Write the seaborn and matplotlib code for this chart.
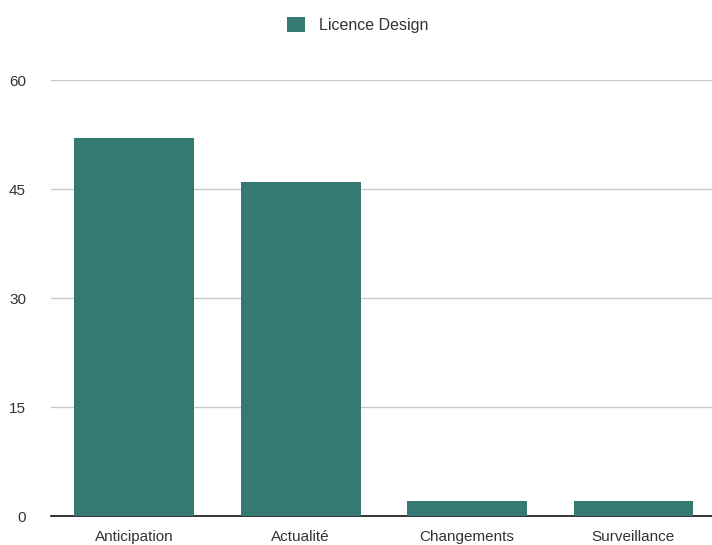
"""Bar chart: Licence Design counts per theme."""
import matplotlib
matplotlib.use("Agg")
import matplotlib.pyplot as plt
import pandas as pd
import seaborn as sns

categories = ["Anticipation", "Actualité", "Changements", "Surveillance"]
values = [52, 46, 2, 2]
series_name = "Licence Design"
y_ticks = [0, 15, 30, 45, 60]

BAR_COLOR = "#357a72"

sns.set_style("white")
plt.rcParams["font.family"] = ["Liberation Sans", "DejaVu Sans"]

df = pd.DataFrame({"category": categories, "value": values, "series": series_name})

fig = plt.figure(figsize=(7.12, 5.45), dpi=100)
ax = fig.add_axes([0.0716, 0.0532, 0.935, 0.8])

sns.barplot(data=df, x="category", y="value", hue="series", palette=[BAR_COLOR],
            width=0.72, saturation=1, linewidth=0, edgecolor="none", ax=ax, zorder=3)

ax.set_ylim(0, 60)
ax.set_yticks(y_ticks)
ax.yaxis.grid(True, color="#c8c8c8", linewidth=1, zorder=0)
ax.set_axisbelow(True)
for side in ["left", "right", "top"]:
    ax.spines[side].set_visible(False)
ax.spines["bottom"].set_color("#111111")
ax.spines["bottom"].set_linewidth(1.2)
ax.tick_params(axis="both", length=0, labelsize=11, colors="#333333")
ax.tick_params(axis="y", pad=18)
ax.tick_params(axis="x", pad=10)
ax.set_xlabel("")
ax.set_ylabel("")

handles, labels = ax.get_legend_handles_labels()
ax.get_legend().remove()
leg = fig.legend(handles, labels, loc="center", bbox_to_anchor=(0.503, 0.954), frameon=False,
                 fontsize=11.5, handlelength=1.1, handleheight=1.1, handletextpad=0.9)
for t in leg.get_texts():
    t.set_color("#333333")

fig.savefig("out.png", dpi=100)
